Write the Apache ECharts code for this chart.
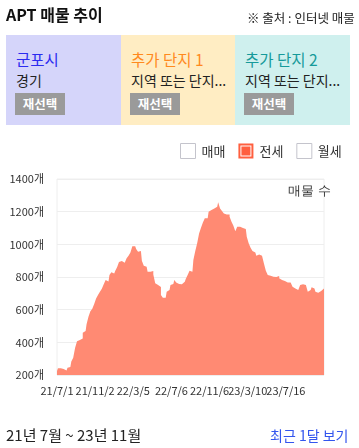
<!DOCTYPE html>
<html>
<head>
<meta charset="utf-8">
<script src="https://cdn.jsdelivr.net/npm/echarts@6/dist/echarts.min.js"></script>
<style>
  html, body { margin:0; padding:0; background:#fff; }
  body { width:359px; height:448px; position:relative; overflow:hidden; font-family:"Noto Sans CJK KR","Noto Sans",sans-serif; color:#222; }
  #chart { position:absolute; left:0; top:0; width:359px; height:448px; }
  .abs { position:absolute; white-space:nowrap; }
  .card { position:absolute; top:35px; height:90px; }
  .ttl { position:absolute; left:10px; top:15px; font-size:15.5px; line-height:18px; }
  .sub { position:absolute; left:10px; top:37px; font-size:14px; line-height:16px; color:#222; }
  .btn { position:absolute; left:9px; top:58px; width:50px; height:22px; background:#9a9a9a; color:#fff; font-weight:bold; font-size:12.5px; line-height:22px; text-align:center; }
</style>
</head>
<body>
<div id="chart"></div>
<div class="abs" style="left:6px;top:4px;font-size:16px;font-weight:bold;line-height:20px;color:#111;">APT 매물 추이</div>
<div class="abs" style="left:247px;top:10px;font-size:12.5px;line-height:16px;color:#222;">※ 출처 : 인터넷 매물</div>
<div class="card" style="left:6px;width:115px;background:#d5d5fa;">
  <div class="ttl" style="color:#2b2bf0;">군포시</div>
  <div class="sub">경기</div>
  <div class="btn">재선택</div>
</div>
<div class="card" style="left:121px;width:114px;background:#ffedc3;">
  <div class="ttl" style="color:#ff8a1e;">추가 단지 1</div>
  <div class="sub">지역 또는 단지...</div>
  <div class="btn">재선택</div>
</div>
<div class="card" style="left:235px;width:115px;background:#cff0ee;">
  <div class="ttl" style="color:#169a9a;">추가 단지 2</div>
  <div class="sub">지역 또는 단지...</div>
  <div class="btn">재선택</div>
</div>
<div class="abs" style="left:6px;top:426px;font-size:15px;line-height:18px;color:#222;">21년 7월 ~ 23년 11월</div>
<div class="abs" style="left:270px;top:426px;font-size:14px;line-height:18px;color:#3355ee;">최근 1달 보기</div>
<script>
// label anchor dates (every 20th category) and end date
const anchorDates = ['2021-07-01','2021-11-02','2022-03-05','2022-07-06','2022-11-06','2023-03-10','2023-07-16','2023-11-06'];
const pointsPerLabel = 20;
const yTicks = [200, 400, 600, 800, 1000, 1200, 1400];
const seriesNames = ['매매', '전세', '월세'];
// 전세 listing counts
const jeonseValues = [
  224, 241, 241, 236, 224, 228, 245, 249, 282, 305,
  367, 406, 415, 424, 459, 470, 510, 557, 590, 605,
  635, 669, 690, 710, 728, 755, 781, 773, 812, 829,
  821, 837, 860, 892, 898, 888, 890, 915, 930, 950,
  989, 989, 971, 955, 959, 900, 869, 863, 832, 832,
  837, 816, 761, 751, 739, 690, 673, 673, 710, 720,
  751, 757, 781, 767, 757, 755, 767, 771, 787, 812,
  839, 832, 904, 959, 1006, 1067, 1102, 1134, 1159, 1159,
  1200, 1210, 1220, 1226, 1230, 1257, 1220, 1204, 1189, 1183,
  1183, 1169, 1138, 1114, 1080, 1108, 1108, 1100, 1094, 1094,
  1047, 1006, 979, 959, 950, 930, 938, 930, 918, 883,
  839, 812, 808, 802, 808, 800, 806, 792, 781, 775,
  767, 767, 767, 755, 741, 730, 720, 710, 751, 755,
  751, 751, 710, 720, 737, 730, 710, 704, 714, 726,
  730
];

function fmt(d) {
  return String(d.getUTCFullYear() % 100) + '/' + (d.getUTCMonth() + 1) + '/' + d.getUTCDate();
}
const categories = [];
for (let s = 0; s < anchorDates.length - 1; s++) {
  const a = Date.parse(anchorDates[s] + 'T00:00:00Z');
  const b = Date.parse(anchorDates[s + 1] + 'T00:00:00Z');
  const days = Math.round((b - a) / 86400000);
  for (let k = 0; k < pointsPerLabel; k++) {
    categories.push(fmt(new Date(a + Math.round(k * days / pointsPerLabel) * 86400000)));
  }
}
categories.push(fmt(new Date(Date.parse(anchorDates[anchorDates.length - 1] + 'T00:00:00Z'))));

const FONT = '"Noto Sans CJK KR","Noto Sans",sans-serif';
const chart = echarts.init(document.getElementById('chart'), null, { renderer: 'canvas' });
chart.setOption({
  animation: false,
  textStyle: { fontFamily: FONT },
  legend: {
    left: 180, top: 143, padding: 0,
    itemWidth: 15, itemHeight: 15, itemGap: 13,
    textStyle: { fontSize: 13, color: '#333', fontFamily: FONT, padding: [0, 0, 0, 1] },
    data: [
      { name: seriesNames[0], icon: 'rect', itemStyle: { color: '#fff', borderColor: '#c4c4cc', borderWidth: 1 } },
      { name: seriesNames[1], icon: 'path://M0,0H15V15H0Z M2,2V13H13V2Z M3,3H12V12H3Z', itemStyle: { color: '#ff5f3f' } },
      { name: seriesNames[2], icon: 'rect', itemStyle: { color: '#fff', borderColor: '#c4c4cc', borderWidth: 1 } }
    ],
    selectedMode: false
  },
  graphic: [{
    type: 'text', right: 28, top: 185,
    style: { text: '매물 수', fontSize: 13, fill: '#333', font: '13px ' + FONT }
  }],
  grid: { left: 57, right: 35, top: 179, bottom: 73, show: true, borderColor: '#eeeeee', borderWidth: 1 },
  xAxis: {
    type: 'category', data: categories, boundaryGap: false,
    axisLine: { show: false }, axisTick: { show: false },
    axisLabel: {
      interval: pointsPerLabel - 1,
      hideOverlap: false,
      formatter: function (value, idx) { return idx === categories.length - 1 ? '' : value; },
      color: '#333', fontSize: 11, margin: 10, fontFamily: FONT
    }
  },
  yAxis: {
    type: 'value', min: yTicks[0], max: yTicks[yTicks.length - 1], interval: 200,
    axisLine: { show: false }, axisTick: { show: false },
    splitLine: { lineStyle: { color: '#eeeeee' } },
    axisLabel: { formatter: function (v) { return v + '개'; }, color: '#333', fontSize: 11, margin: 13, fontFamily: FONT }
  },
  series: [
    { name: seriesNames[0], type: 'line', data: [], itemStyle: { color: '#fff' } },
    {
      name: seriesNames[1], type: 'line', data: jeonseValues, step: 'middle',
      showSymbol: false, symbol: 'none',
      lineStyle: { width: 0, color: '#ff8a73' },
      itemStyle: { color: '#ff5f3f' },
      areaStyle: { color: '#ff8a73', opacity: 1 }
    },
    { name: seriesNames[2], type: 'line', data: [], itemStyle: { color: '#fff' } }
  ]
});
</script>
</body>
</html>
